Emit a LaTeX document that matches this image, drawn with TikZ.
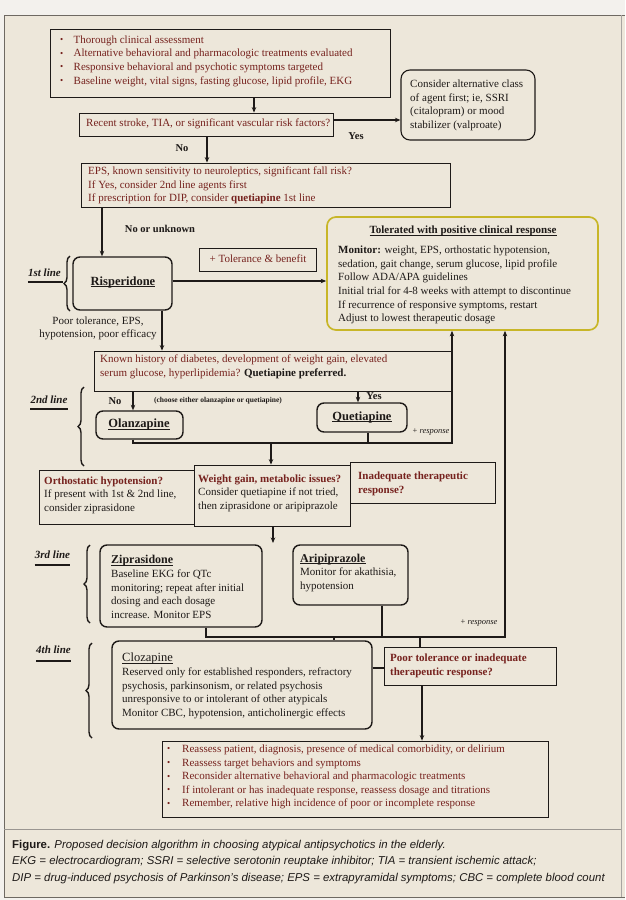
\documentclass[tikz,border=0pt]{standalone}
\usepackage{fontspec}
\setmainfont{Liberation Serif}
\newfontfamily\capfont{Liberation Sans}
\usetikzlibrary{arrows.meta,decorations.pathreplacing,calc}
\definecolor{paper}{RGB}{237,231,218}
\definecolor{topstrip}{RGB}{243,241,237}
\definecolor{dred}{RGB}{118,34,30}
\definecolor{ink}{RGB}{30,26,24}
\definecolor{tolcol}{RGB}{200,182,40}
\definecolor{framec}{RGB}{110,105,98}
\newcommand{\mybul}[1]{\makebox[#1][l]{\raisebox{0.1ex}{\fontsize{9}{9}\selectfont\textbullet}}}
\newlength{\myulw}
\newcommand{\myul}[1]{\settowidth{\myulw}{#1}\rlap{\rule[-1.7pt]{\myulw}{0.6pt}}#1}
\begin{document}
\begin{tikzpicture}[x=1pt,y=-1pt,
  txt/.style={font=\fontsize{11}{13.6}\selectfont, inner sep=0pt, align=left, text=ink},
  rtxt/.style={txt, text=dred},
  sq/.style={draw=ink, line width=0.8pt, inner sep=0pt},
  rb/.style={draw=ink, line width=1.4pt, rounded corners=7pt, inner sep=0pt},
  tbx/.style={draw=tolcol, line width=1.7pt, rounded corners=9pt, inner sep=0pt},
  arr/.style={-{Stealth[length=5.5pt,width=4.5pt]}, line width=1.1pt, draw=ink},
  ln/.style={line width=1.1pt, draw=ink},
  lbl/.style={font=\fontsize{11}{13}\selectfont\bfseries\itshape, inner sep=0pt, text=ink},
  ul/.style={line width=1.5pt, draw=ink},
  brc/.style={decorate, decoration={brace, amplitude=6pt}, line width=1.4pt, draw=ink},
  yn/.style={font=\fontsize{10.5}{12}\selectfont\bfseries, inner sep=0pt, text=ink},
  resp/.style={font=\fontsize{8.5}{10}\selectfont, inner sep=0pt, text=ink},
  ttl/.style={font=\fontsize{12.5}{14}\selectfont\bfseries, inner sep=0pt, text=ink}
]
\useasboundingbox (0,0) rectangle (625,900);
\fill[topstrip] (0,0) rectangle (625,900);
\fill[paper] (4,15) rectangle (625,897);
\draw[framec, line width=1pt] (625,15) -- (4,15) -- (4,897) -- (625,897);
\draw[framec!60, line width=0.6pt] (621,15) -- (621,897);
\draw[framec!70, line width=0.6pt] (4,829) -- (621,829);

% column / row helpers
\coordinate (x254) at (254,0);
\coordinate (x207) at (207,0);
\coordinate (x102) at (102,0);
\coordinate (x162) at (162,0);
\coordinate (x133) at (133,0);
\coordinate (x358) at (358,0);
\coordinate (x368) at (368,0);
\coordinate (x271) at (271,0);
\coordinate (x382) at (382,0);
\coordinate (x334) at (334,0);
\coordinate (x420) at (420,0);
\coordinate (x422) at (422,0);
\coordinate (y120) at (0,120);
\coordinate (y281) at (0,281);
\coordinate (y668) at (0,668);

% boxes
\node[sq, minimum width=340pt, minimum height=68pt] (b1) at (220,63) {};
\node[rtxt, anchor=west] (b1t) at (60,61) {\mybul{13.5pt}Thorough clinical assessment\\
\mybul{13.5pt}Alternative behavioral and pharmacologic treatments evaluated\\
\mybul{13.5pt}Responsive behavioral and psychotic symptoms targeted\\
\mybul{13.5pt}Baseline weight, vital signs, fasting glucose, lipid profile, EKG};

\node[sq, minimum width=254pt, minimum height=23pt] (b2) at (206,124.5) {};
\node[rtxt, anchor=west] (b2t) at (86,124) {Recent stroke, TIA, or significant vascular risk factors?};

\node[rb, rounded corners=9pt, line width=1.1pt, minimum width=134pt, minimum height=70pt] (alt) at (468,105) {};
\node[txt, anchor=west] (altt) at (410,105.5) {Consider alternative class\\ of agent first; ie, SSRI\\ (citalopram) or mood\\ stabilizer (valproate)};

\node[sq, minimum width=369pt, minimum height=44pt] (eps) at (265.5,185) {};
\node[rtxt, anchor=west] (epst) at (88,185.5) {EPS, known sensitivity to neuroleptics, significant fall risk?\\ If Yes, consider 2nd line agents first\\ If prescription for DIP, consider \textbf{quetiapine} 1st line};

\node[rb, minimum width=99pt, minimum height=53pt] (risp) at (122.5,283.5) {};
\node[ttl] (rispt) at (123,282) {\myul{Risperidone}};

\node[sq, minimum width=117pt, minimum height=23pt] (tb1) at (257.5,259.5) {};
\node[rtxt] (tb1t) at (258,259) {+ Tolerance \& benefit};

\node[txt, align=center] (ptxt) at (98,328.5) {Poor tolerance, EPS,\\ hypotension, poor efficacy};

\node[tbx, minimum width=271pt, minimum height=113pt] (good) at (462.5,273.5) {};
\node[txt, font=\fontsize{11}{13.6}\selectfont\bfseries] (goodh) at (463,231) {\myul{Tolerated with positive clinical response}};
\node[txt, anchor=west] (goodt) at (338,285) {\textbf{Monitor:} weight, EPS, orthostatic hypotension,\\ sedation, gait change, serum glucose, lipid profile\\ Follow ADA/APA guidelines\\ Initial trial for 4-8 weeks with attempt to discontinue\\ If recurrence of responsive symptoms, restart\\ Adjust to lowest therapeutic dosage};

\node[sq, minimum width=358pt, minimum height=40pt] (known) at (273,371) {};
\node[rtxt, anchor=west] (knownt) at (100,367) {Known history of diabetes, development of weight gain, elevated\\ serum glucose, hyperlipidemia? \textcolor{ink}{\textbf{Quetiapine preferred.}}};

\node[rb, minimum width=87pt, minimum height=28pt] (olan) at (139.5,425) {};
\node[ttl] (olant) at (139,424.5) {\myul{Olanzapine}};
\node[rb, minimum width=90pt, minimum height=29pt] (quet) at (362,417.5) {};
\node[ttl] (quett) at (362,417) {\myul{Quetiapine}};

\node[sq, minimum width=155pt, minimum height=54pt] (orth) at (116.5,497) {};
\node[txt, anchor=west] (ortht) at (44,495) {\textcolor{dred}{\textbf{Orthostatic hypotension?}}\\ If present with 1st \& 2nd line,\\ consider ziprasidone};
\node[sq, minimum width=156pt, minimum height=61pt] (weight) at (272,495.5) {};
\node[txt, anchor=west] (weightt) at (198,493) {\textcolor{dred}{\textbf{Weight gain, metabolic issues?}}\\ Consider quetiapine if not tried,\\ then ziprasidone or aripiprazole};
\node[sq, minimum width=145pt, minimum height=41pt] (inad) at (422.5,482.5) {};
\node[rtxt, anchor=west, font=\fontsize{11}{14.5}\selectfont\bfseries] (inadt) at (358,484) {Inadequate therapeutic\\ response?};

\node[rb, minimum width=162pt, minimum height=82pt] (zip) at (181,586) {};
\node[txt, anchor=west] (zipt) at (111,587) {{\fontsize{12}{13.6}\selectfont\bfseries\myul{Ziprasidone}}\\ Baseline EKG for QTc\\ monitoring; repeat after initial\\ dosing and each dosage\\ increase. Monitor EPS};
\node[rb, minimum width=115pt, minimum height=60pt] (arip) at (350.5,575) {};
\node[txt, anchor=west] (aript) at (300,573) {{\fontsize{12}{13.6}\selectfont\bfseries\myul{Aripiprazole}}\\ Monitor for akathisia,\\ hypotension};

\node[rb, minimum width=260pt, minimum height=88pt] (cloz) at (242,685) {};
\node[txt, anchor=west] (clozt) at (122,686) {{\fontsize{12.5}{13.6}\selectfont\myul{Clozapine}}\\ Reserved only for established responders, refractory\\ psychosis, parkinsonism, or related psychosis\\ unresponsive to or intolerant of other atypicals\\ Monitor CBC, hypotension, anticholinergic effects};
\node[sq, minimum width=172pt, minimum height=38pt] (poor) at (470,666) {};
\node[rtxt, anchor=west, font=\fontsize{11}{14}\selectfont\bfseries] (poort) at (390,666) {Poor tolerance or inadequate\\ therapeutic response?};

\node[sq, minimum width=386pt, minimum height=76pt] (bot) at (355,779) {};
\node[rtxt, anchor=west] (bott) at (167,777) {\mybul{15pt}Reassess patient, diagnosis, presence of medical comorbidity, or delirium\\
\mybul{15pt}Reassess target behaviors and symptoms\\
\mybul{15pt}Reconsider alternative behavioral and pharmacologic treatments\\
\mybul{15pt}If intolerant or has inadequate response, reassess dosage and titrations\\
\mybul{15pt}Remember, relative high incidence of poor or incomplete response};

% line labels and braces
\node[lbl] (l1) at (44.5,273) {1st line};
\draw[ul] ([yshift=-5pt]l1.base west) -- ([yshift=-5pt,xshift=2pt]l1.base east);
\draw[brc] (70,311) -- (70,256);
\node[lbl] (l2) at (49,400) {2nd line};
\draw[ul] ([yshift=-5pt]l2.base west) -- ([yshift=-5pt]l2.base east);
\draw[brc] (84,466) -- (84,387);
\node[lbl] (l3) at (52.5,555) {3rd line};
\draw[ul] ([yshift=-6pt]l3.base west) -- ([yshift=-6pt]l3.base east);
\draw[brc] (90,623) -- (90,545);
\node[lbl] (l4) at (53.5,650) {4th line};
\draw[ul] ([yshift=-7pt]l4.base west) -- ([yshift=-7pt]l4.base east);
\draw[brc] (92,738) -- (92,643);

% connector labels
\node[yn] (yes1) at (356,136) {Yes};
\node[yn] (no1) at (182,148) {No};
\node[yn] (nou) at (160,229) {No or unknown};
\node[yn] (no2) at (115,401) {No};
\node[yn, font=\fontsize{7.5}{9}\selectfont\bfseries] (choose) at (218,401) {(choose either olanzapine or quetiapine)};
\node[yn] (yes2) at (374,396) {Yes};
\node[resp] (r1) at (431,432) {+ \textit{response}};
\node[resp] (r2) at (479,623) {+ \textit{response}};

% connectors
\draw[arr] (b1.south -| x254) -- (b2.north -| x254);
\draw[arr] (b2.east |- y120) -- (alt.west |- y120);
\draw[arr] (b2.south -| x207) -- (eps.north -| x207);
\draw[arr] (eps.south -| x102) -- (risp.north -| x102);
\draw[arr] (risp.east |- y281) -- (good.west |- y281);
\draw[arr] (risp.south -| x162) -- (known.north -| x162);
\draw[arr] (known.south -| x133) -- (olan.north -| x133);
\draw[arr] (known.south -| x358) -- (quet.north -| x358);
\coordinate (j2) at (133,443);
\coordinate (j2r) at (452,443);
\draw[arr] (olan.south -| j2) -- (j2) -- (j2r) -- (good.south -| j2r);
\draw[ln] (quet.south -| x368) -- (x368 |- j2);
\draw[arr] (x271 |- j2) -- (weight.north -| x271);
\coordinate (k) at (273,543);
\draw[arr] (weight.south -| k) -- (k);
\coordinate (j3) at (206,637);
\coordinate (j3r) at (505,637);
\draw[arr] (zip.south -| j3) -- (j3) -- (j3r) -- (good.south -| j3r);
\draw[ln] (arip.south -| x382) -- (x382 |- j3);
\draw[ln] (x334 |- j3) -- (cloz.north -| x334);
\draw[ln] (x420 |- j3) -- (poor.north -| x420);
\draw[ln] (cloz.east |- y668) -- (poor.west |- y668);
\draw[arr] (poor.south -| x422) -- (bot.north -| x422);

% caption
\node[anchor=west, inner sep=0pt, align=left, text=ink, font=\capfont\fontsize{11.4}{16.5}\selectfont\itshape] (cap) at (12,862) {{\upshape\bfseries Figure.} Proposed decision algorithm in choosing atypical antipsychotics in the elderly.\\ EKG = electrocardiogram; SSRI = selective serotonin reuptake inhibitor; TIA = transient ischemic attack;\\ DIP = drug-induced psychosis of Parkinson’s disease; EPS = extrapyramidal symptoms; CBC = complete blood count};
\end{tikzpicture}
\end{document}
